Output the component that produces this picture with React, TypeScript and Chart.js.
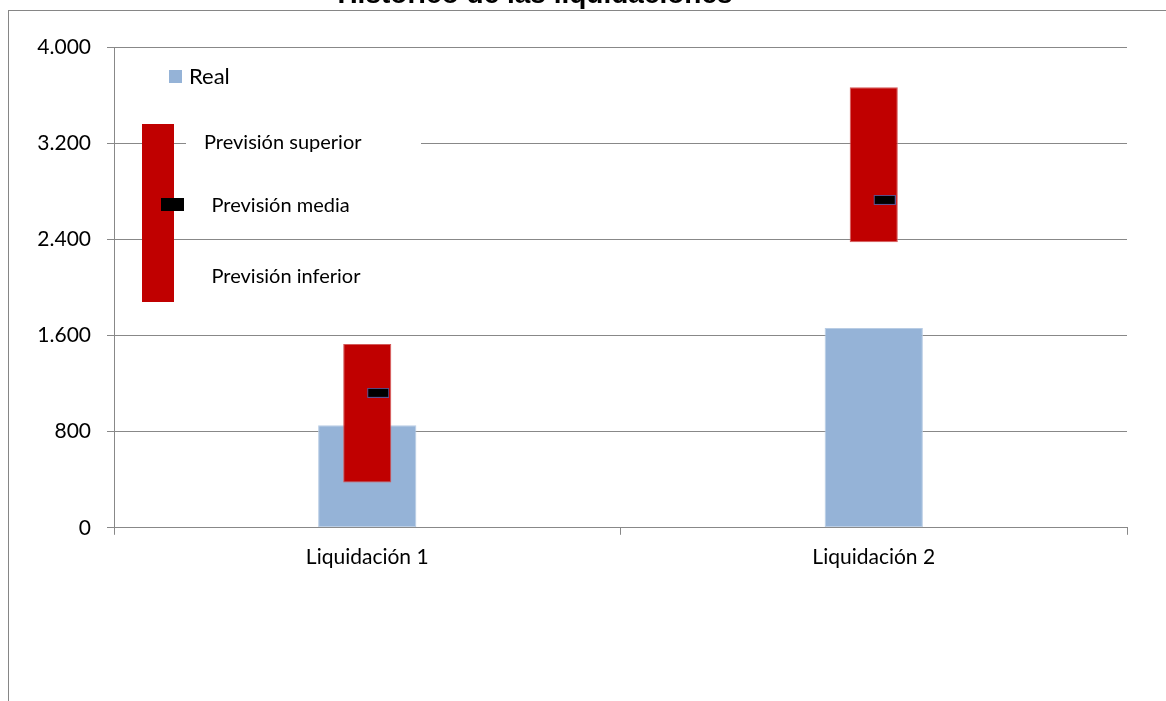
import React, { useEffect, useRef } from "react";
import { Chart, registerables } from "chart.js";

Chart.register(...registerables);

const categories = ["Liquidación 1", "Liquidación 2"];
const realValues = [854, 1663];
const forecastLow = [377, 2376];
const forecastHigh = [1530, 3665];
const forecastMean = [1123, 2728];
const yTickValues = [0, 800, 1600, 2400, 3200, 4000];
const yTickLabels = ["0", "800", "1.600", "2.400", "3.200", "4.000"];
const titleText = "Histórico de las liquidaciones";
const legendReal = "Real";
const legendUpper = "Previsión superior";
const legendMean = "Previsión media";
const legendLower = "Previsión inferior";

const COLOR_REAL = "#95b3d7";
const COLOR_FORECAST = "#c00000";
const COLOR_GRID = "#888888";
const FONT = "Lato";

const SHIFT_Y = 22;
const SHIFT_X = 57;

export default function App() {
  const ref = useRef<HTMLCanvasElement>(null);

  useEffect(() => {
    const canvas = ref.current;
    if (!canvas) return;

    const marker = document.createElement("canvas");
    marker.width = 44;
    marker.height = 10;
    const mc = marker.getContext("2d")!;
    mc.fillStyle = "#000000";
    mc.fillRect(22, 0, 22, 10);
    mc.strokeStyle = "#5e5290";
    mc.lineWidth = 1;
    mc.strokeRect(22.5, 0.5, 21, 9);

    const legendPlugin = {
      id: "customLegend",
      afterDraw(chart: any) {
        const { ctx, chartArea } = chart;
        const x0 = chartArea.left;
        const y0 = chartArea.top;
        ctx.save();
        // Real
        ctx.fillStyle = COLOR_REAL;
        ctx.fillRect(x0 + 55, y0 + 23, 13, 13);
        ctx.fillStyle = "#000";
        ctx.textBaseline = "alphabetic";
        ctx.textAlign = "left";
        ctx.font = `22px ${FONT}`;
        ctx.fillText(legendReal, x0 + 75, y0 + 37);
        // forecast block
        ctx.fillStyle = COLOR_FORECAST;
        ctx.fillRect(x0 + 28, y0 + 77, 32, 178);
        ctx.fillStyle = "#ffffff";
        ctx.fillRect(x0 + 72, y0 + 80, 235, 32);
        ctx.fillStyle = "#000000";
        ctx.fillRect(x0 + 47, y0 + 151, 23, 13);
        ctx.font = `20px ${FONT}`;
        ctx.fillText(legendUpper, x0 + 90, y0 + 102);
        ctx.fillText(legendMean, x0 + 97.5, y0 + 164.5);
        ctx.fillText(legendLower, x0 + 97.5, y0 + 235.5);
        ctx.restore();
      },
    };

    const chart = new Chart(canvas, {
      type: "bar",
      data: {
        labels: categories,
        datasets: [
          {
            type: "line",
            label: legendMean,
            data: forecastMean,
            showLine: false,
            pointStyle: marker as any,
            pointRadius: 5,
            order: 0,
          } as any,
          {
            label: "Previsión",
            data: forecastLow.map((lo, i) => [lo, forecastHigh[i]]),
            backgroundColor: COLOR_FORECAST,
            borderColor: "#d45a5a",
            borderWidth: 1,
            borderSkipped: false,
            grouped: false,
            barPercentage: 0.095,
            categoryPercentage: 1,
            order: 1,
          } as any,
          {
            label: legendReal,
            data: realValues,
            backgroundColor: COLOR_REAL,
            borderColor: "#b8cce4",
            borderWidth: 1,
            borderSkipped: false,
            grouped: false,
            barPercentage: 0.194,
            categoryPercentage: 1,
            order: 2,
          } as any,
        ],
      },
      options: {
        animation: false,
        responsive: true,
        maintainAspectRatio: false,
        layout: { padding: { left: 0, right: 39, top: 0, bottom: 121 } },
        plugins: {
          legend: { display: false },
          tooltip: { enabled: false },
          title: {
            display: true,
            text: titleText,
            color: "#000",
            font: { family: "Liberation Sans", size: 28, weight: "bold" },
            padding: { top: 0, bottom: 35.4 },
          },
        },
        scales: {
          x: {
            offset: true,
            grid: {
              offset: true,
              drawOnChartArea: false,
              drawTicks: true,
              tickLength: 7,
              color: COLOR_GRID,
            },
            border: { color: COLOR_GRID },
            ticks: {
              color: "#000",
              font: { family: FONT, size: 21 },
              padding: 10,
              maxRotation: 0,
            },
          },
          y: {
            min: 0,
            max: 4000,
            afterBuildTicks: (s: any) => {
              s.ticks = yTickValues.map((v) => ({ value: v }));
            },
            afterFit: (s: any) => {
              s.width = 114 + SHIFT_X;
            },
            grid: { color: COLOR_GRID, tickLength: 7, drawTicks: true },
            border: { color: COLOR_GRID },
            ticks: {
              color: "#000",
              font: { family: FONT, size: 21 },
              padding: 16,
              callback: (v: any) => {
                const i = yTickValues.indexOf(Number(v));
                return i >= 0 ? yTickLabels[i] : "";
              },
            },
          },
        },
      },
      plugins: [legendPlugin],
    });

    return () => chart.destroy();
  }, []);

  return (
    <div
      style={{
        position: "fixed",
        left: 0,
        top: 0,
        width: 1166,
        height: 701,
        overflow: "hidden",
        background: "#fff",
      }}
    >
      <div
        style={{
          position: "absolute",
          left: 8,
          top: 10,
          width: 2000,
          height: 2000,
          borderLeft: "1px solid #868686",
          borderTop: "1px solid #868686",
        }}
      />
      <div
        style={{
          position: "absolute",
          left: -SHIFT_X,
          top: -SHIFT_Y,
          width: 1166 + SHIFT_X,
          height: 701 + SHIFT_Y,
        }}
      >
        <canvas ref={ref} />
      </div>
    </div>
  );
}
